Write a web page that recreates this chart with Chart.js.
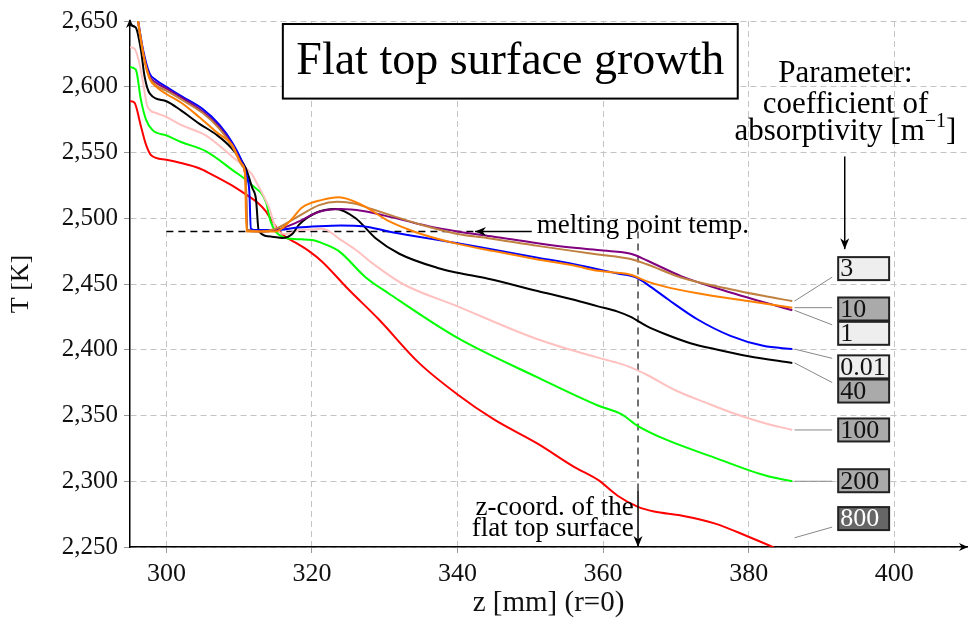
<!DOCTYPE html>
<html>
<head>
<meta charset="utf-8">
<script src="https://cdn.jsdelivr.net/npm/chart.js@4.4.1/dist/chart.umd.min.js"></script>
<style>
  html, body { margin: 0; padding: 0; background: #fff; }
  #wrap { width: 969px; height: 625px; }
</style>
</head>
<body>
<div id="wrap"><canvas id="tempChart"></canvas></div>
<script>
// axis ticks
const xTicks = [300, 320, 340, 360, 380, 400];
const yTicks = [2250, 2300, 2350, 2400, 2450, 2500, 2550, 2600, 2650];

// coefficient of absorptivity [1/m] -> temperature along z (r=0)
const z001 = [295.7, 296.8, 297.7, 298.6, 300, 302, 305, 307.3, 309, 310.4, 311.0, 311.4, 311.6, 312.5, 315, 318, 321, 324, 327, 330.5, 334, 340, 345, 351, 356, 362, 364.5, 366.5, 369, 373, 377.5, 382, 386];
const T001 = [2665, 2628, 2610, 2605, 2600, 2593, 2583, 2571, 2558, 2543, 2533, 2520, 2492, 2491, 2491, 2493, 2494, 2494.5, 2494, 2490, 2486.5, 2481, 2476, 2470, 2465, 2458, 2455, 2448, 2438, 2423, 2410.6, 2403, 2400.5];

const z1 = [295.7, 296.8, 297.7, 298.6, 300, 302, 305, 307.3, 309, 310.4, 310.9, 311.1, 313, 315, 318, 321, 324, 327, 330, 333, 336, 340, 345, 351, 356, 360, 363.8, 366.2, 370.7, 377.5, 382.2, 386];
const T1 = [2665, 2626, 2608, 2603, 2598.5, 2592, 2581, 2569, 2556, 2541, 2530, 2491, 2490, 2491, 2497, 2505, 2507, 2505.5, 2502, 2498, 2494, 2490, 2486, 2481, 2477.5, 2475.5, 2473, 2467.5, 2456, 2443.5, 2436, 2430];

const z3 = [295.7, 296.8, 297.7, 298.6, 300, 302, 305, 307.3, 309, 310.4, 310.9, 311.1, 313, 315, 318, 321, 323.5, 326, 328.2, 331, 335, 340, 344, 351, 356, 359.3, 363.8, 366, 370.7, 377.5, 382, 386];
const T3 = [2665, 2625, 2607, 2601, 2597, 2590.5, 2580, 2568, 2555, 2540, 2530, 2491, 2490, 2492, 2501, 2510, 2512.5, 2511, 2507, 2502, 2495, 2488, 2485, 2479, 2475, 2472.5, 2469, 2465, 2455, 2446, 2441, 2437];

const z10 = [295.7, 297, 297.7, 298.6, 300, 302, 304.5, 307, 309, 310.4, 310.8, 311.0, 313, 315, 317, 318.6, 321.4, 323.7, 326.9, 330.5, 333, 335, 340, 345, 351, 356, 359.3, 362, 363.8, 366, 368.5, 373, 379.9, 386];
const T10 = [2665, 2620, 2606, 2600, 2594.5, 2588, 2577, 2565, 2556, 2541, 2534, 2490, 2490, 2490, 2498, 2508, 2514, 2516, 2510, 2498, 2492, 2488, 2480.5, 2475, 2468.7, 2464, 2460, 2458.6, 2457, 2452, 2448, 2443, 2437, 2432];

const z40 = [295, 295.8, 296.5, 297, 297.7, 300, 302, 304.5, 307, 309, 310.9, 311.8, 312.3, 312.7, 314.5, 315.9, 317.3, 318.2, 320.5, 323.2, 326, 328.7, 332, 337.4, 340, 344.2, 351, 356, 359.3, 362, 363.8, 366, 368.5, 372, 375.3, 380, 386];
const T40 = [2647, 2645, 2628, 2608, 2595, 2589, 2582, 2572, 2563, 2553, 2538, 2523, 2515, 2490, 2486, 2485, 2488, 2495, 2504, 2507, 2500, 2485, 2473, 2462, 2458.6, 2454, 2444.7, 2438, 2433, 2429, 2425, 2418, 2412, 2405, 2400.5, 2395, 2390];

const z100 = [295, 295.6, 296.2, 296.8, 297.4, 298.6, 300, 302, 305.4, 309, 311.8, 312.3, 314.1, 315, 316.4, 318.3, 320, 321.4, 324.1, 326, 328.5, 332.5, 340, 351, 359.3, 362, 363.8, 366, 370, 374, 378, 382, 386];
const T100 = [2630, 2629, 2620, 2603, 2585, 2580, 2577, 2571, 2563, 2547, 2533, 2528, 2508, 2493, 2488, 2491, 2491.5, 2492, 2483, 2476, 2465, 2450, 2433, 2408, 2394, 2390, 2386.6, 2381, 2369, 2360, 2351.5, 2344.5, 2339];

const z200 = [295, 295.8, 296.5, 297.2, 298.1, 300, 302, 305.4, 309, 311.8, 313.7, 314.3, 315, 316.4, 318.5, 320, 321.9, 323.7, 327.4, 330.5, 340, 351, 359.3, 362.5, 364.8, 368.5, 375.3, 382.2, 386];
const T200 = [2615, 2613, 2590, 2575, 2567, 2563, 2558, 2551, 2537, 2525, 2512, 2498, 2490, 2485, 2484, 2483.5, 2480, 2475, 2455, 2443, 2409, 2379, 2357.6, 2351, 2342, 2332, 2318, 2304.5, 2300];

const z800 = [295, 295.6, 296.5, 297.2, 297.9, 300, 302, 304.5, 306, 309, 310.4, 312.7, 313.7, 314.5, 315.9, 318.2, 319.6, 321.4, 325, 329.2, 334.7, 340, 345, 351, 356, 359.3, 362, 364.8, 367, 370.7, 375.3, 379.9, 383.3, 386];
const T800 = [2589, 2588, 2570, 2556, 2548, 2544.5, 2542, 2538, 2534, 2525, 2520, 2511, 2505, 2498, 2488, 2480, 2475, 2467, 2446, 2423, 2390, 2366, 2347, 2328.6, 2311, 2301, 2289, 2280.5, 2277, 2274, 2268, 2258, 2250, 2243];

// label boxes on the right (parameter, box centre in K)
const labelNames = ["3", "10", "1", "0.01", "40", "100", "200", "800"];
const labelT = [2461.7, 2431, 2412.5, 2387, 2368.6, 2339, 2300.4, 2271.6];
const labelEnds = [T3, T10, T1, T001, T40, T100, T200, T800];
const labelFill = ["#eeeeee", "#aaaaaa", "#eeeeee", "#eeeeee", "#aaaaaa", "#aaaaaa", "#aaaaaa", "#666666"];

const meltT = 2490;
const flatTopZ = 364.8;

const FONT = "'Liberation Serif', 'Times New Roman', serif";

function pts(zs, ts) {
  return zs.map((z, i) => ({ x: z, y: ts[i] }));
}

function mkSet(label, zs, ts, color) {
  return {
    label: label,
    data: pts(zs, ts),
    borderColor: color,
    backgroundColor: color,
    borderWidth: 2,
    pointRadius: 0,
    showLine: true,
    cubicInterpolationMode: "monotone",
    fill: false,
  };
}

// first dataset is drawn on top
const datasets = [
  mkSet("10", z10, T10, "#ff8000"),
  mkSet("3", z3, T3, "#bf8040"),
  mkSet("1", z1, T1, "#800080"),
  mkSet("0.01", z001, T001, "#0000ff"),
  mkSet("40", z40, T40, "#000000"),
  mkSet("100", z100, T100, "#ffc0c0"),
  mkSet("200", z200, T200, "#00ff00"),
  mkSet("800", z800, T800, "#ff0000"),
];

function arrowHead(ctx, x1, y1, x2, y2, len, wid) {
  const a = Math.atan2(y2 - y1, x2 - x1);
  ctx.beginPath();
  ctx.moveTo(x2, y2);
  ctx.lineTo(x2 - len * Math.cos(a) + wid * Math.sin(a), y2 - len * Math.sin(a) - wid * Math.cos(a));
  ctx.lineTo(x2 - len * 0.7 * Math.cos(a), y2 - len * 0.7 * Math.sin(a));
  ctx.lineTo(x2 - len * Math.cos(a) - wid * Math.sin(a), y2 - len * Math.sin(a) + wid * Math.cos(a));
  ctx.closePath();
  ctx.fill();
}

function arrow(ctx, x1, y1, x2, y2) {
  ctx.beginPath();
  ctx.moveTo(x1, y1);
  ctx.lineTo(x2, y2);
  ctx.stroke();
  arrowHead(ctx, x1, y1, x2, y2, 11, 4.5);
}

const annotations = {
  id: "annotations",
  beforeDatasetsDraw(chart) {
    const { ctx, scales: { x, y } } = chart;
    const px = (v) => x.getPixelForValue(v);
    const py = (v) => y.getPixelForValue(v);
    ctx.save();
    ctx.lineWidth = 1.5;
    ctx.setLineDash([7, 5]);
    // melting point line
    ctx.strokeStyle = "#000";
    ctx.beginPath();
    ctx.moveTo(px(300), py(meltT));
    ctx.lineTo(px(342.4), py(meltT));
    ctx.stroke();
    // flat top surface position
    ctx.strokeStyle = "#444";
    ctx.beginPath();
    ctx.moveTo(px(flatTopZ), py(meltT));
    ctx.lineTo(px(flatTopZ), py(2293));
    ctx.stroke();
    ctx.restore();
  },
  afterDatasetsDraw(chart) {
    const { ctx, chartArea, scales: { x, y } } = chart;
    const px = (v) => x.getPixelForValue(v);
    const py = (v) => y.getPixelForValue(v);
    ctx.save();
    ctx.strokeStyle = "#000";
    ctx.fillStyle = "#000";
    ctx.lineWidth = 1.5;

    // axis arrows
    arrowHead(ctx, chartArea.left, chartArea.top + 10, chartArea.left, chartArea.top - 2, 9, 4);
    arrowHead(ctx, chartArea.right - 10, chartArea.bottom, chartArea.right + 1, chartArea.bottom, 9, 4);

    // melting point arrow + text
    arrow(ctx, px(350.2), py(meltT), px(342.4), py(meltT));
    ctx.font = "27px " + FONT;
    ctx.textBaseline = "middle";
    ctx.textAlign = "left";
    ctx.fillText("melting point temp.", px(350.9), py(2494));

    // flat top surface arrow + text
    arrow(ctx, px(flatTopZ), py(2293), px(flatTopZ), py(2250));
    ctx.textAlign = "right";
    ctx.fillText("z-coord. of the", px(364.2), py(2279.5));
    ctx.fillText("flat top surface", px(364.2), py(2264));

    // title box
    const bx1 = px(316), bx2 = px(378.5), by1 = py(2647.7), by2 = py(2591);
    ctx.fillStyle = "#fff";
    ctx.fillRect(bx1, by1, bx2 - bx1, by2 - by1);
    ctx.lineWidth = 2;
    ctx.strokeRect(bx1, by1, bx2 - bx1, by2 - by1);
    ctx.fillStyle = "#000";
    ctx.textAlign = "center";
    ctx.font = "46px " + FONT;
    ctx.fillText("Flat top surface growth", (bx1 + bx2) / 2, (by1 + by2) / 2 + 1);

    // parameter heading
    const cx = px(393.3);
    ctx.font = "31px " + FONT;
    ctx.fillText("Parameter:", cx, py(2609.8));
    ctx.fillText("coefficient of", cx, py(2586.4));
    const s1 = "absorptivity [m", s2 = "\u22121", s3 = "]";
    const w1 = ctx.measureText(s1).width, w3 = ctx.measureText(s3).width;
    ctx.font = "20px " + FONT;
    const w2 = ctx.measureText(s2).width;
    let sx = cx - (w1 + w2 + w3) / 2;
    const ly = py(2565.9);
    ctx.textAlign = "left";
    ctx.font = "31px " + FONT;
    ctx.fillText(s1, sx, ly);
    ctx.font = "20px " + FONT;
    ctx.fillText(s2, sx + w1, ly - 10);
    ctx.font = "31px " + FONT;
    ctx.fillText(s3, sx + w1 + w2, ly);
    ctx.lineWidth = 1.5;
    arrow(ctx, px(393.2), py(2547), px(393.2), py(2476.5));

    // label boxes with connectors
    const bl = px(392.3), br = px(399.3);
    ctx.font = "26px " + FONT;
    labelNames.forEach((name, i) => {
      const ts = labelEnds[i];
      const cy = py(labelT[i]);
      const top = cy - 11.5, bottom = cy + 11.5;
      const sy = py(Math.max(ts[ts.length - 1], 2257));
      const ey = Math.min(Math.max(sy, top + 3), bottom - 3);
      ctx.strokeStyle = "#888";
      ctx.lineWidth = 1;
      ctx.beginPath();
      ctx.moveTo(px(386.3), sy);
      ctx.lineTo(bl - 6, ey);
      ctx.stroke();
      ctx.fillStyle = labelFill[i];
      ctx.fillRect(bl, top, br - bl, bottom - top);
      ctx.strokeStyle = "#222";
      ctx.lineWidth = 2;
      ctx.strokeRect(bl, top, br - bl, bottom - top);
      ctx.fillStyle = labelFill[i] === "#666666" ? "#fff" : "#111";
      ctx.textAlign = "left";
      ctx.fillText(name, bl + 2, cy + 1);
    });
    ctx.restore();
  },
};

const ctx = document.getElementById("tempChart").getContext("2d");

new Chart(ctx, {
  type: "scatter",
  data: { datasets: datasets },
  plugins: [annotations],
  options: {
    responsive: true,
    maintainAspectRatio: false,
    animation: false,
    layout: { padding: { top: 19, right: 2, left: 0, bottom: 0 } },
    plugins: {
      legend: { display: false },
      tooltip: { enabled: false },
    },
    scales: {
      x: {
        type: "linear",
        min: 295,
        max: 410,
        afterBuildTicks: (scale) => {
          scale.ticks = xTicks.map((v) => ({ value: v }));
        },
        afterFit: (scale) => {
          scale.height = 78;
        },
        grid: {
          color: "#c4c4c4",
          lineWidth: 1,
          tickLength: 6,
          tickColor: "#999",
        },
        border: { color: "#000", width: 1.5, dash: [6, 4] },
        ticks: {
          color: "#111",
          padding: 6,
          maxRotation: 0,
          font: { family: FONT, size: 26 },
        },
        title: {
          display: true,
          text: "z [mm] (r=0)",
          color: "#111",
          font: { family: FONT, size: 29 },
          padding: { top: 0, bottom: 4 },
        },
      },
      y: {
        type: "linear",
        min: 2250,
        max: 2650,
        afterBuildTicks: (scale) => {
          scale.ticks = yTicks.map((v) => ({ value: v }));
        },
        afterFit: (scale) => {
          scale.width = 130;
        },
        grid: {
          color: "#c4c4c4",
          lineWidth: 1,
          tickLength: 6,
          tickColor: "#999",
        },
        border: { color: "#000", width: 1.5, dash: [6, 4] },
        ticks: {
          color: "#111",
          padding: 6,
          font: { family: FONT, size: 25 },
          callback: (v) => v.toLocaleString("en-US"),
        },
        title: {
          display: true,
          text: "T [K]",
          color: "#111",
          font: { family: FONT, size: 26 },
          padding: { top: 6, bottom: 0 },
        },
      },
    },
  },
});
</script>
</body>
</html>
